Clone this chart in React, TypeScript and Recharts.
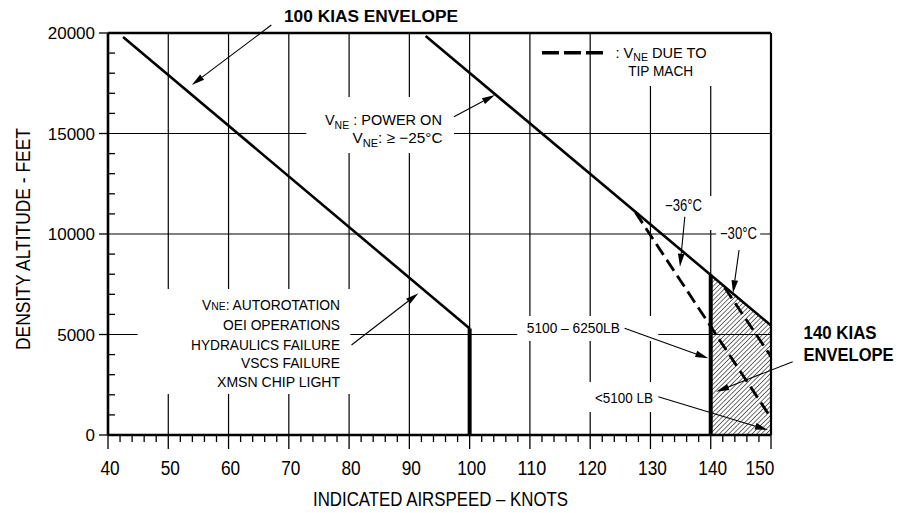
import React from "react";
import {
    ComposedChart,
    Line,
    Area,
    XAxis,
    YAxis,
    ReferenceLine,
    ReferenceArea,
    ReferenceDot,
} from "recharts";

const FONT = "'Liberation Sans', Arial, Helvetica, sans-serif";

// axes (knots / feet)
const xLabelTicks = [40, 50, 60, 70, 80, 90, 100, 110, 120, 130, 140, 150];
const yLabelTicks = [0, 5000, 10000, 15000, 20000];
const xGridLines = [50, 60, 70, 80, 90, 100, 110, 120, 130, 140];
const yGridLines = [5000, 10000, 15000];
// minor marks: every 2 kt and every 1000 ft
const xTicks = Array.from({ length: 56 }, (_, i) => 40 + i * 2);
const yTicks = Array.from({ length: 21 }, (_, i) => i * 1000);

// envelope lines
const kias100Diagonal = [
    { x: 42.5, y: 19800 },
    { x: 100, y: 5300 },
];
const kias100Limit = [
    { x: 100, y: 5300 },
    { x: 100, y: 0 },
];
const vnePowerOn = [
    { x: 92.7, y: 19850 },
    { x: 150, y: 5450 },
];
const kias140Limit = [
    { x: 140, y: 7960 },
    { x: 140, y: 0 },
];
const tipMachMinus36 = [
    { x: 127.5, y: 11080 },
    { x: 150, y: 850 },
];
const tipMachMinus30 = [
    { x: 142.3, y: 7340 },
    { x: 150, y: 3900 },
];
const kias140Zone = [
    { x: 140, y: 7960 },
    { x: 150, y: 5450 },
];

// text notes. {..} = subscript, [..] = small caps
type Note = {
    x: number;
    y: number;
    text: string;
    anchor: "start" | "middle" | "end";
    size: number;
    width: number;
    bold?: boolean;
};
const notes: Note[] = [
    { x: 69.2, y: 20846, text: "100 KIAS ENVELOPE", anchor: "start", size: 16, width: 174, bold: true },
    { x: 95.4, y: 15671, text: "V{NE} : POWER ON", anchor: "end", size: 15, width: 117 },
    { x: 95.5, y: 14776, text: "V{NE}: ≥ −25°C", anchor: "end", size: 15, width: 90 },
    { x: 124.2, y: 19000, text: ": V{NE} DUE TO", anchor: "start", size: 14, width: 91 },
    { x: 126.3, y: 18110, text: "TIP MACH", anchor: "start", size: 14, width: 65 },
    { x: 135.5, y: 11408, text: "−36°C", anchor: "middle", size: 16, width: 37 },
    { x: 144.6, y: 10035, text: "−30°C", anchor: "middle", size: 16, width: 37 },
    { x: 78.5, y: 6468, text: "V[NE]: AUTOROTATION", anchor: "end", size: 15, width: 138 },
    { x: 78.5, y: 5473, text: "OEI OPERATIONS", anchor: "end", size: 15, width: 117 },
    { x: 78.5, y: 4512, text: "HYDRAULICS FAILURE", anchor: "end", size: 15, width: 149 },
    { x: 78.5, y: 3597, text: "VSCS FAILURE", anchor: "end", size: 15, width: 99 },
    { x: 78.5, y: 2652, text: "XMSN CHIP LIGHT", anchor: "end", size: 15, width: 123 },
    { x: 117.2, y: 5308, text: "5100 – 6250LB", anchor: "middle", size: 14, width: 93 },
    { x: 125.6, y: 1826, text: "<5100 LB", anchor: "middle", size: 14, width: 58 },
    { x: 155.4, y: 5090, text: "140 KIAS", anchor: "start", size: 18, width: 73, bold: true },
    { x: 155.4, y: 3980, text: "ENVELOPE", anchor: "start", size: 18, width: 90, bold: true },
];

// white boxes behind the notes (gaps in the grid)
const labelBoxes = [
    { x1: 72.9, x2: 97.4, y1: 14030, y2: 16816 },
    { x1: 121.3, x2: 141.9, y1: 17363, y2: 19950 },
    { x1: 132.9, x2: 141.2, y1: 10200, y2: 11890 },
    { x1: 140.9, x2: 148.2, y1: 9502, y2: 10498 },
    { x1: 44.9, x2: 80.2, y1: 2040, y2: 7264 },
    { x1: 107.9, x2: 131.3, y1: 4677, y2: 5920 },
    { x1: 119.2, x2: 131.6, y1: 1144, y2: 2637 },
];

// leader arrows: from -> to
const arrows = [
    [{ x: 67.1, y: 20398 }, { x: 53.9, y: 17413 }],
    [{ x: 97.4, y: 15836 }, { x: 104.2, y: 16915 }],
    [{ x: 80.4, y: 4478 }, { x: 91.5, y: 7050 }],
    [{ x: 135.7, y: 10860 }, { x: 134.9, y: 8373 }],
    [{ x: 144.7, y: 9204 }, { x: 143.7, y: 7050 }],
    [{ x: 125.7, y: 5308 }, { x: 139.6, y: 3816 }],
    [{ x: 153.6, y: 3647 }, { x: 140.9, y: 2154 }],
    [{ x: 131.3, y: 1905 }, { x: 149.5, y: 249 }],
];
const legendDash = [
    { x: 112, y: 19020 },
    { x: 122.5, y: 19020 },
];

function parseParts(text: string) {
    const out: { t: string; kind: "n" | "sub" | "caps" }[] = [];
    const re = /\{([^}]*)\}|\[([^\]]*)\]/g;
    let last = 0;
    let m: RegExpExecArray | null;
    while ((m = re.exec(text))) {
        if (m.index > last) out.push({ t: text.slice(last, m.index), kind: "n" });
        out.push({ t: m[1] !== undefined ? m[1] : m[2], kind: m[1] !== undefined ? "sub" : "caps" });
        last = re.lastIndex;
    }
    if (last < text.length) out.push({ t: text.slice(last), kind: "n" });
    return out;
}

function NoteText({ cx, cy, note }: any) {
    const n: Note = note;
    const parts = parseParts(n.text);
    const shift = n.size * 0.22;
    let shifted = false;
    return (
        <text
            x={cx}
            y={cy + n.size * 0.36}
            textAnchor={n.anchor}
            fontFamily={FONT}
            fontSize={n.size}
            fontWeight={n.bold ? 700 : 400}
            fill="#000"
            textLength={n.width}
            lengthAdjust="spacingAndGlyphs"
        >
            {parts.map((p, i) => {
                if (p.kind === "sub") {
                    shifted = true;
                    return (
                        <tspan key={i} fontSize={n.size * 0.72} dy={shift}>
                            {p.t}
                        </tspan>
                    );
                }
                if (p.kind === "caps") {
                    return (
                        <tspan key={i} fontSize={n.size * 0.75}>
                            {p.t}
                        </tspan>
                    );
                }
                const dy = shifted ? -shift : undefined;
                shifted = false;
                return (
                    <tspan key={i} dy={dy}>
                        {p.t}
                    </tspan>
                );
            })}
        </text>
    );
}

function Arrow(props: any) {
    const { x1, y1, x2, y2 } = props;
    const ang = Math.atan2(y2 - y1, x2 - x1);
    const len = 13;
    const half = 3.3;
    const bx = x2 - len * Math.cos(ang);
    const by = y2 - len * Math.sin(ang);
    const px = -Math.sin(ang) * half;
    const py = Math.cos(ang) * half;
    return (
        <g>
            <line x1={x1} y1={y1} x2={bx} y2={by} stroke="#000" strokeWidth={1.1} />
            <polygon points={`${x2},${y2} ${bx + px},${by + py} ${bx - px},${by - py}`} fill="#000" />
        </g>
    );
}

function XTick({ x, y, payload }: any) {
    const v = payload.value;
    const major = v % 10 === 0;
    const dx = v === 150 ? -11 : 2;
    return (
        <g>
            <line x1={x} y1={y} x2={x} y2={y + (major ? 14 : 7)} stroke="#000" strokeWidth={1.3} />
            {major && (
                <text
                    x={x + dx}
                    y={y + 32.5 + 7}
                    textAnchor="middle"
                    fontFamily={FONT}
                    fontSize={20}
                    fill="#000"
                    textLength={String(v).length * 9.6}
                    lengthAdjust="spacingAndGlyphs"
                >
                    {v}
                </text>
            )}
        </g>
    );
}

function YTick({ x, y, payload }: any) {
    const v = payload.value;
    const major = v % 5000 === 0;
    return (
        <g>
            {major ? (
                <line x1={x - 9} y1={y} x2={x} y2={y} stroke="#000" strokeWidth={1.3} />
            ) : (
                <line x1={x} y1={y} x2={x + 7} y2={y} stroke="#000" strokeWidth={1.3} />
            )}
            {major && (
                <text x={x - 13} y={y + 6} textAnchor="end" fontFamily={FONT} fontSize={17} fill="#000">
                    {v}
                </text>
            )}
        </g>
    );
}

function XTitle({ viewBox }: any) {
    const cx = viewBox.x + viewBox.width / 2 + 1;
    const cy = viewBox.y + 63;
    return (
        <text
            x={cx}
            y={cy + 7.5}
            textAnchor="middle"
            fontFamily={FONT}
            fontSize={21}
            fill="#000"
            textLength={255}
            lengthAdjust="spacingAndGlyphs"
        >
            INDICATED AIRSPEED – KNOTS
        </text>
    );
}

function YTitle({ viewBox }: any) {
    const cx = viewBox.x + 14.5;
    const cy = viewBox.y + viewBox.height / 2 + 5;
    return (
        <text
            x={cx}
            y={cy}
            dy={7.5}
            transform={`rotate(-90, ${cx}, ${cy})`}
            textAnchor="middle"
            fontFamily={FONT}
            fontSize={21}
            fill="#000"
            textLength={222}
            lengthAdjust="spacingAndGlyphs"
        >
            DENSITY ALTITUDE - FEET
        </text>
    );
}

export default function App() {
    return (
        <div style={{ position: "absolute", left: 0, top: 0, width: 904, height: 513, background: "#fff" }}>
            <ComposedChart width={904} height={513} margin={{ top: 33, right: 133, bottom: 18, left: 8 }}>
                <defs>
                    <pattern
                        id="hatch"
                        width={3.3}
                        height={6}
                        patternUnits="userSpaceOnUse"
                        patternTransform="rotate(45)"
                    >
                        <line x1={0} y1={0} x2={0} y2={6} stroke="#000" strokeWidth={1.1} />
                    </pattern>
                </defs>
                <XAxis
                    dataKey="x"
                    type="number"
                    domain={[40, 150]}
                    allowDataOverflow
                    ticks={xTicks}
                    interval={0}
                    tickSize={0}
                    tickMargin={0}
                    tickLine={false}
                    axisLine={{ stroke: "#000", strokeWidth: 2.6 }}
                    tick={(p: any) => <XTick {...p} />}
                    height={60}
                    label={<XTitle />}
                />
                <YAxis
                    dataKey="y"
                    type="number"
                    domain={[0, 20000]}
                    allowDataOverflow
                    ticks={yTicks}
                    interval={0}
                    tickSize={0}
                    tickMargin={0}
                    tickLine={false}
                    axisLine={{ stroke: "#000", strokeWidth: 2.6 }}
                    tick={(p: any) => <YTick {...p} />}
                    width={100}
                    label={<YTitle />}
                />

                {xGridLines.map((v) => (
                    <ReferenceLine key={"gx" + v} x={v} stroke="#000" strokeWidth={1.2} zIndex={-100} />
                ))}
                {yGridLines.map((v) => (
                    <ReferenceLine key={"gy" + v} y={v} stroke="#000" strokeWidth={1.2} zIndex={-100} />
                ))}
                {labelBoxes.map((b, i) => (
                    <ReferenceArea
                        key={"box" + i}
                        x1={b.x1}
                        x2={b.x2}
                        y1={b.y1}
                        y2={b.y2}
                        fill="#fff"
                        fillOpacity={1}
                        stroke="none"
                        zIndex={-50}
                    />
                ))}

                <Area
                    data={kias140Zone}
                    dataKey="y"
                    type="linear"
                    stroke="none"
                    fill="url(#hatch)"
                    fillOpacity={1}
                    baseValue={0}
                    isAnimationActive={false}
                    activeDot={false}
                />

                <Line data={kias100Diagonal} dataKey="y" type="linear" stroke="#000" strokeWidth={2.6} dot={false} activeDot={false} isAnimationActive={false} />
                <Line data={kias100Limit} dataKey="y" type="linear" stroke="#000" strokeWidth={4} dot={false} activeDot={false} isAnimationActive={false} />
                <Line data={vnePowerOn} dataKey="y" type="linear" stroke="#000" strokeWidth={2.6} dot={false} activeDot={false} isAnimationActive={false} />
                <Line data={kias140Limit} dataKey="y" type="linear" stroke="#000" strokeWidth={4} dot={false} activeDot={false} isAnimationActive={false} />
                <Line data={tipMachMinus36} dataKey="y" type="linear" stroke="#000" strokeWidth={2.8} strokeDasharray="13 6" dot={false} activeDot={false} isAnimationActive={false} />
                <Line data={tipMachMinus30} dataKey="y" type="linear" stroke="#000" strokeWidth={2.8} strokeDasharray="13 6" dot={false} activeDot={false} isAnimationActive={false} />

                {/* frame top / right */}
                <ReferenceLine y={20000} stroke="#000" strokeWidth={2.6} ifOverflow="visible" />
                <ReferenceLine x={150} stroke="#000" strokeWidth={2.2} ifOverflow="visible" />

                <ReferenceLine segment={legendDash} stroke="#000" strokeWidth={3.5} strokeDasharray="17 5" ifOverflow="visible" />
                {arrows.map((a, i) => (
                    <ReferenceLine key={"ar" + i} segment={a} ifOverflow="visible" shape={(p: any) => <Arrow {...p} />} />
                ))}
                {notes.map((n, i) => (
                    <ReferenceDot
                        key={"note" + i}
                        x={n.x}
                        y={n.y}
                        r={0}
                        ifOverflow="visible"
                        shape={(p: any) => <NoteText cx={p.cx} cy={p.cy} note={n} />}
                    />
                ))}
            </ComposedChart>
        </div>
    );
}
